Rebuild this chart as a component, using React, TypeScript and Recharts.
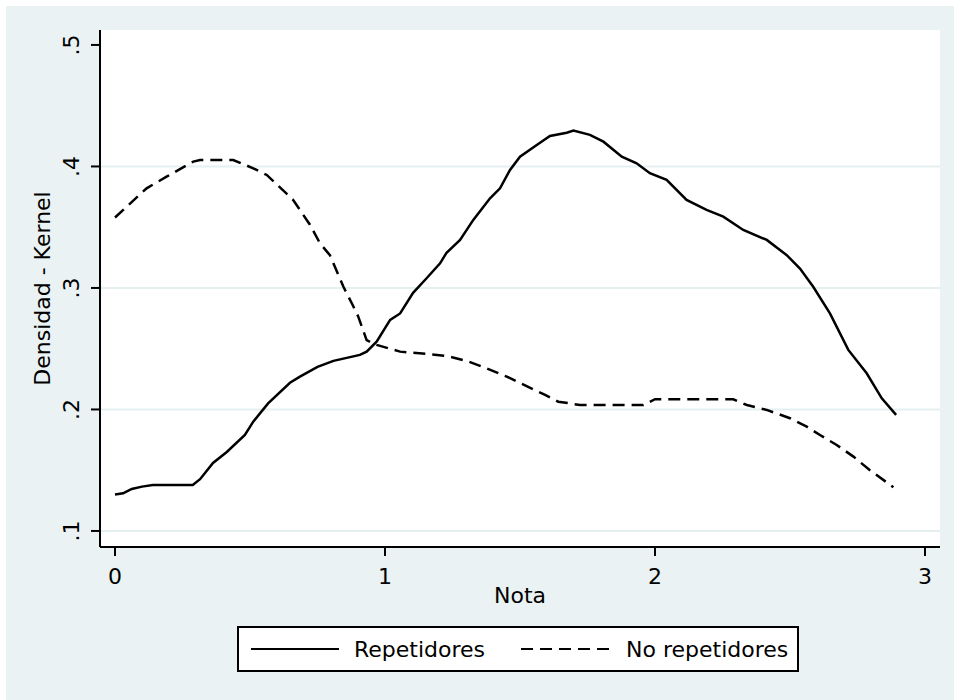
import React from "react";
import { LineChart, Line, XAxis, YAxis, CartesianGrid, Legend } from "recharts";

// Kernel density estimates of "Nota" for the two groups
const notaRepetidores = [
    0.0, 0.03, 0.062, 0.1, 0.14, 0.2, 0.288, 0.315, 0.363, 0.414, 0.481, 0.512, 0.567, 0.648, 0.685,
    0.75, 0.809, 0.907, 0.932, 0.969, 1.019, 1.056, 1.104, 1.154, 1.204, 1.228, 1.278, 1.327, 1.389,
    1.426, 1.463, 1.5, 1.562, 1.611, 1.673, 1.698, 1.759, 1.809, 1.877, 1.932, 1.981, 2.043, 2.117,
    2.191, 2.253, 2.327, 2.414, 2.488, 2.537, 2.586, 2.648, 2.716, 2.784, 2.84, 2.893,
];
const densidadRepetidores = [
    0.13, 0.131, 0.1346, 0.1365, 0.1379, 0.1379, 0.1379, 0.1426, 0.156, 0.165, 0.179, 0.19, 0.205, 0.222,
    0.227, 0.235, 0.24, 0.2449, 0.2476, 0.2558, 0.2737, 0.279, 0.296, 0.308, 0.3203, 0.329, 0.3395,
    0.356, 0.3738, 0.382, 0.3971, 0.408, 0.4177, 0.4251, 0.4278, 0.4295, 0.426, 0.4204, 0.408, 0.4026,
    0.3944, 0.3889, 0.3725, 0.3642, 0.3587, 0.3477, 0.3395, 0.327, 0.316, 0.301, 0.2791, 0.249, 0.2298,
    0.2092, 0.1955,
];

const notaNoRepetidores = [
    0.0, 0.117, 0.191, 0.29, 0.315, 0.438, 0.512, 0.562, 0.66, 0.722, 0.759, 0.796, 0.846, 0.877, 0.901,
    0.932, 0.969, 1.056, 1.154, 1.228, 1.302, 1.376, 1.451, 1.593, 1.642, 1.722, 1.957, 2.0, 2.29, 2.34,
    2.414, 2.5, 2.562, 2.611, 2.673, 2.735, 2.796, 2.883,
];
const densidadNoRepetidores = [
    0.358, 0.382, 0.3916, 0.404, 0.4053, 0.4053, 0.3985, 0.393, 0.3724, 0.352, 0.3368, 0.327, 0.301,
    0.2874, 0.2764, 0.257, 0.2531, 0.2476, 0.2457, 0.244, 0.24, 0.2339, 0.227, 0.212, 0.2064, 0.2037,
    0.2037, 0.2084, 0.2084, 0.2037, 0.1996, 0.1928, 0.1858, 0.179, 0.1708, 0.1612, 0.15, 0.136,
];

const seriesNames = ["Repetidores", "No repetidores"];
const xTicks = [0, 1, 2, 3];
const yTicks = [0.1, 0.2, 0.3, 0.4, 0.5];
const gridValues = [0.1, 0.2, 0.3, 0.4];

const FONT = "'DejaVu Sans', sans-serif";
const BG = "#EAF2F3";
const DASH = "12 7";
const LINE_W = 2.5;

const toPoints = (xs: number[], ys: number[]) => xs.map((x, i) => ({ x, y: ys[i] }));

const repetidores = toPoints(notaRepetidores, densidadRepetidores);
const noRepetidores = toPoints(notaNoRepetidores, densidadNoRepetidores);

// rotated y tick labels, Stata style
const YTick = (props: any) => {
    const { x, y, payload } = props;
    const label = String(payload.value).replace(/^0/, "");
    return (
        <text
            x={x - 10}
            y={y}
            transform={`rotate(-90, ${x - 10}, ${y})`}
            textAnchor="middle"
            fontFamily={FONT}
            fontSize={22}
            fill="#000"
        >
            {label}
        </text>
    );
};

const LegendBox = (props: any) => {
    const items = [...(props.payload || [])].sort(
        (a: any, b: any) => seriesNames.indexOf(a.value) - seriesNames.indexOf(b.value)
    );
    return (
        <div
            style={{
                boxSizing: "border-box",
                width: 562,
                height: 46,
                border: "2px solid #000",
                background: "#fff",
                display: "flex",
                alignItems: "center",
                paddingLeft: 12,
                fontFamily: FONT,
                fontSize: 22,
                color: "#000",
            }}
        >
            {items.map((entry: any, i: number) => {
                const dashed = !!entry.payload.strokeDasharray;
                const w = dashed ? 90 : 88;
                return (
                    <React.Fragment key={entry.value}>
                        <svg width={w} height={4} style={{ marginLeft: i === 0 ? 0 : 36 }}>
                            <line
                                x1={0}
                                y1={2}
                                x2={w}
                                y2={2}
                                stroke="#000"
                                strokeWidth={2}
                                strokeDasharray={entry.payload.strokeDasharray}
                            />
                        </svg>
                        <span style={{ marginLeft: 15 }}>{entry.value}</span>
                    </React.Fragment>
                );
            })}
        </div>
    );
};

const App: React.FC = () => {
    return (
        <div style={{ position: "absolute", left: 6, top: 6, width: 948, height: 694, background: BG, fontFamily: FONT }}>
            <LineChart width={948} height={694} margin={{ top: 24, right: 14, bottom: 83, left: 0 }}>
                <CartesianGrid
                    vertical={false}
                    horizontalValues={gridValues}
                    stroke="#E6EFF0"
                    strokeWidth={2}
                    fill="#fff"
                />
                <XAxis
                    type="number"
                    dataKey="x"
                    domain={[-0.0556, 3.0556]}
                    ticks={xTicks}
                    allowDataOverflow
                    height={70}
                    tickSize={9}
                    tickMargin={12}
                    axisLine={{ stroke: "#000", strokeWidth: 2 }}
                    tickLine={{ stroke: "#000", strokeWidth: 2 }}
                    tick={{ fill: "#000", fontSize: 22, fontFamily: FONT }}
                    label={(p: any) => (
                        <text
                            x={p.viewBox.x + p.viewBox.width / 2}
                            y={p.viewBox.y + 56}
                            textAnchor="middle"
                            fontFamily={FONT}
                            fontSize={22}
                            fill="#000"
                        >
                            Nota
                        </text>
                    )}
                />
                <YAxis
                    type="number"
                    domain={[0.0868, 0.5123]}
                    ticks={yTicks}
                    allowDataOverflow
                    width={94}
                    tickSize={9}
                    tickMargin={2}
                    axisLine={{ stroke: "#000", strokeWidth: 2 }}
                    tickLine={{ stroke: "#000", strokeWidth: 2 }}
                    tick={<YTick />}
                    label={(p: any) => {
                        const cx = p.viewBox.x + 44;
                        const cy = p.viewBox.y + p.viewBox.height / 2;
                        return (
                            <text
                                x={cx}
                                y={cy}
                                transform={`rotate(-90, ${cx}, ${cy})`}
                                textAnchor="middle"
                                fontFamily={FONT}
                                fontSize={22}
                                fill="#000"
                            >
                                Densidad - Kernel
                            </text>
                        );
                    }}
                />
                <Legend
                    layout="horizontal"
                    verticalAlign="middle"
                    align="center"
                    content={<LegendBox />}
                    wrapperStyle={{ left: 231, top: 620, width: 562, height: 46 }}
                />
                <Line
                    data={repetidores}
                    dataKey="y"
                    name={seriesNames[0]}
                    type="linear"
                    stroke="#000"
                    strokeWidth={LINE_W}
                    dot={false}
                    activeDot={false}
                    isAnimationActive={false}
                />
                <Line
                    data={noRepetidores}
                    dataKey="y"
                    name={seriesNames[1]}
                    type="linear"
                    stroke="#000"
                    strokeWidth={LINE_W}
                    strokeDasharray={DASH}
                    dot={false}
                    activeDot={false}
                    isAnimationActive={false}
                />
            </LineChart>
        </div>
    );
};

export default App;
